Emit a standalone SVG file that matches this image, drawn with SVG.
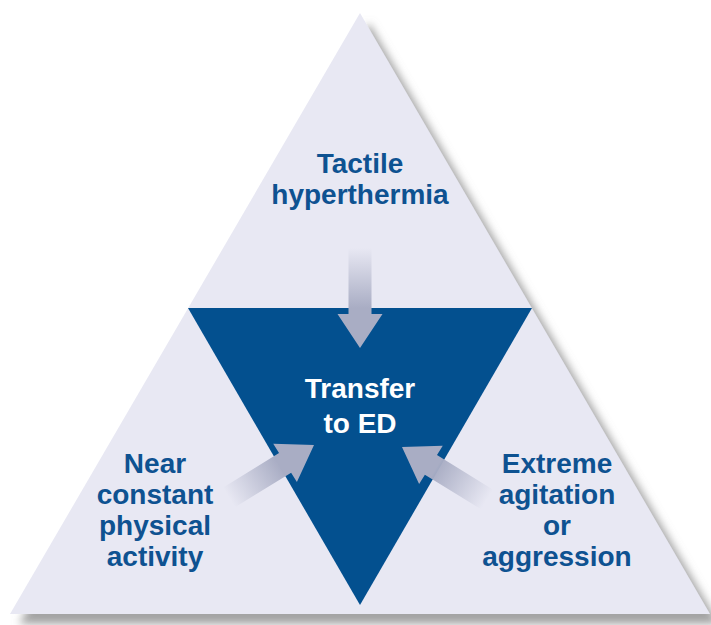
<svg xmlns="http://www.w3.org/2000/svg" width="711" height="625" viewBox="0 0 711 625">
  <defs>
    <filter id="shadow" x="-10%" y="-10%" width="130%" height="130%">
      <feGaussianBlur in="SourceAlpha" stdDeviation="4" result="b"/>
      <feOffset in="b" dx="9" dy="10" result="o"/>
      <feFlood flood-color="#8c8c8c" flood-opacity="0.8"/>
      <feComposite in2="o" operator="in" result="s"/>
      <feMerge><feMergeNode in="s"/><feMergeNode in="SourceGraphic"/></feMerge>
    </filter>
    <linearGradient id="arrowGrad" gradientUnits="userSpaceOnUse" x1="-100" y1="0" x2="-40" y2="0">
      <stop offset="0" stop-color="#a9adc4" stop-opacity="0"/>
      <stop offset="1" stop-color="#a9adc4"/>
    </linearGradient>
    <polygon id="arrow" points="-100,-11.5 -34,-11.5 -34,-22.5 0,0 -34,22.5 -34,11.5 -100,11.5"/>
  </defs>
  <style>
    .lbl { font-family: "Liberation Sans", Arial, sans-serif; font-weight: bold; font-size: 28px; fill: #0e5291; text-anchor: middle; }
    .inner { fill: #ffffff; }
    .arr { fill: url(#arrowGrad); }
  </style>
  <rect width="711" height="625" fill="#ffffff"/>
  <g id="outer-triangle">
    <polygon points="360,13 10,614 710,614" fill="#e8e8f3" filter="url(#shadow)"/>
  </g>
  <g id="inner-triangle">
    <polygon points="188,308 532,308 360,605" fill="#03508f"/>
  </g>
  <g id="connectors">
    <use href="#arrow" class="arr" transform="translate(360,348) rotate(90)"/>
    <use href="#arrow" class="arr" transform="translate(314,445) rotate(-31.7)"/>
    <use href="#arrow" class="arr" transform="translate(402,447) rotate(211.7)"/>
  </g>
  <g id="node-tactile">
    <text class="lbl" x="360" y="173">Tactile</text>
    <text class="lbl" x="360" y="204">hyperthermia</text>
  </g>
  <g id="node-transfer">
    <text class="lbl inner" x="360" y="398">Transfer</text>
    <text class="lbl inner" x="360" y="433">to ED</text>
  </g>
  <g id="node-activity">
    <text class="lbl" x="155" y="473">Near</text>
    <text class="lbl" x="155" y="504">constant</text>
    <text class="lbl" x="155" y="535">physical</text>
    <text class="lbl" x="155" y="566">activity</text>
  </g>
  <g id="node-agitation">
    <text class="lbl" x="557" y="473">Extreme</text>
    <text class="lbl" x="557" y="504">agitation</text>
    <text class="lbl" x="557" y="535">or</text>
    <text class="lbl" x="557" y="566">aggression</text>
  </g>
</svg>
